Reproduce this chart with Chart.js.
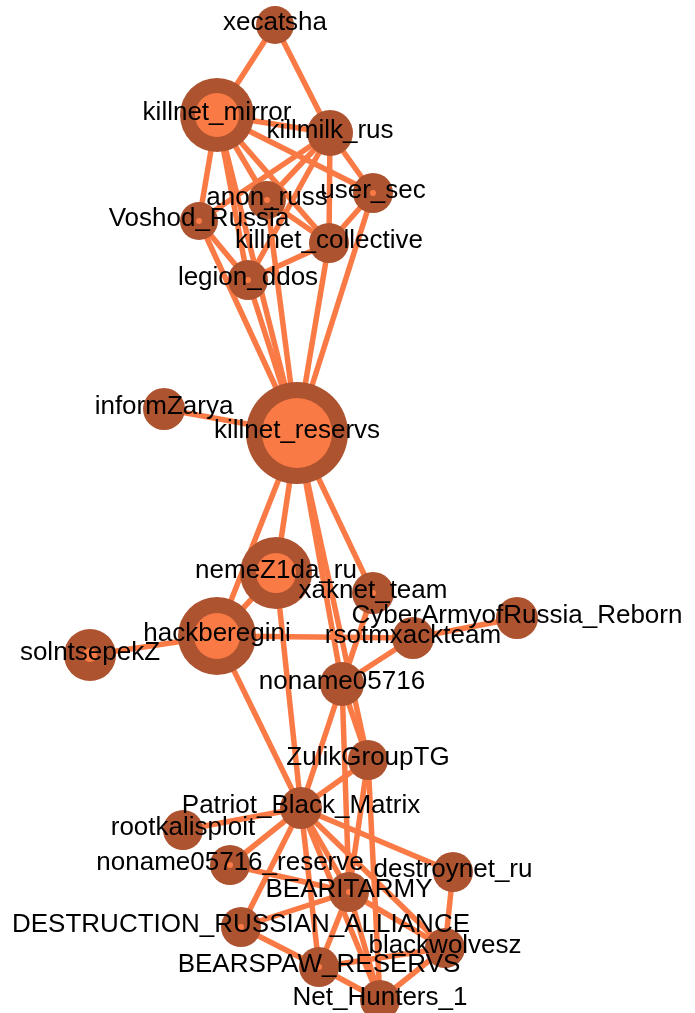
<!DOCTYPE html>
<html>
<head>
<meta charset="utf-8">
<script src="https://cdn.jsdelivr.net/npm/chart.js@4/dist/chart.umd.min.js"></script>
<style>
  html, body { margin: 0; padding: 0; background: #ffffff; }
  #graph { display: block; }
</style>
</head>
<body>
<canvas id="graph" width="695" height="1013"></canvas>
<script>
// vertices (layout coordinates)
var nodeNames = ['xecatsha', 'killnet_mirror', 'killmilk_rus', 'user_sec', 'anon_russ', 'Voshod_Russia',
    'killnet_collective', 'legion_ddos', 'informZarya', 'killnet_reservs', 'nemeZ1da_ru', 'xaknet_team',
    'CyberArmyofRussia_Reborn', 'hackberegini', 'rsotmxackteam', 'solntsepekZ', 'noname05716', 'ZulikGroupTG',
    'Patriot_Black_Matrix', 'rootkalisploit', 'noname05716_reserve', 'destroynet_ru', 'BEARITARMY',
    'DESTRUCTION_RUSSIAN_ALLIANCE', 'blackwolvesz', 'BEARSPAW_RESERVS', 'Net_Hunters_1'];
var nodeX = [275, 217, 330, 373, 267, 199, 329, 248, 164, 297, 276, 373, 517, 217, 413, 90, 342, 368,
    301, 183, 230, 453, 349, 241, 445, 319, 380];
var nodeY = [25, 115, 133, 193, 200, 221, 243, 280, 409, 433, 573, 593, 618, 636, 638, 655, 684, 760,
    808, 830, 865, 872, 892, 927, 948, 967, 1000];
// vertex size (outer) and inner measure
var nodeSize = [19, 37, 23, 20, 19, 19, 20, 20, 21, 51, 36, 21, 21, 39, 21, 26, 22, 20,
    21, 20, 20, 20, 20, 20, 20, 20, 20];
var nodeCore = [0, 22, 0, 3, 3, 3, 0, 3, 0, 35, 20, 3, 0, 23, 0, 7, 0, 0,
    0, 0, 3, 0, 3, 3, 0, 3, 0];

// edges
var edgeFrom = ['xecatsha', 'xecatsha', 'killnet_mirror', 'killnet_mirror', 'killnet_mirror', 'killnet_mirror',
    'killnet_mirror', 'killnet_mirror', 'killnet_mirror', 'killmilk_rus', 'killmilk_rus', 'killmilk_rus',
    'killmilk_rus', 'killmilk_rus', 'anon_russ', 'anon_russ', 'user_sec', 'user_sec', 'Voshod_Russia',
    'Voshod_Russia', 'legion_ddos', 'killnet_collective', 'killnet_collective',
    'informZarya', 'killnet_reservs', 'killnet_reservs', 'killnet_reservs', 'killnet_reservs', 'killnet_reservs',
    'hackberegini', 'hackberegini', 'hackberegini', 'hackberegini', 'nemeZ1da_ru', 'rsotmxackteam',
    'rsotmxackteam', 'xaknet_team', 'noname05716', 'noname05716', 'noname05716', 'ZulikGroupTG', 'ZulikGroupTG',
    'ZulikGroupTG', 'Patriot_Black_Matrix', 'Patriot_Black_Matrix', 'Patriot_Black_Matrix', 'Patriot_Black_Matrix',
    'Patriot_Black_Matrix', 'Patriot_Black_Matrix', 'Patriot_Black_Matrix', 'Patriot_Black_Matrix',
    'noname05716_reserve', 'DESTRUCTION_RUSSIAN_ALLIANCE', 'DESTRUCTION_RUSSIAN_ALLIANCE', 'BEARITARMY',
    'BEARITARMY', 'BEARITARMY', 'BEARSPAW_RESERVS', 'BEARSPAW_RESERVS', 'blackwolvesz', 'destroynet_ru'];
var edgeTo = ['killnet_mirror', 'killmilk_rus', 'killmilk_rus', 'user_sec', 'anon_russ', 'Voshod_Russia',
    'killnet_collective', 'legion_ddos', 'killnet_reservs', 'user_sec', 'anon_russ', 'Voshod_Russia',
    'killnet_collective', 'legion_ddos', 'killnet_collective', 'killnet_reservs', 'killnet_collective',
    'killnet_reservs', 'legion_ddos', 'killnet_reservs', 'killnet_reservs', 'legion_ddos', 'killnet_reservs',
    'killnet_reservs', 'nemeZ1da_ru', 'hackberegini', 'noname05716', 'ZulikGroupTG', 'xaknet_team',
    'solntsepekZ', 'rsotmxackteam', 'nemeZ1da_ru', 'Patriot_Black_Matrix', 'Patriot_Black_Matrix',
    'CyberArmyofRussia_Reborn', 'noname05716', 'noname05716', 'ZulikGroupTG', 'Patriot_Black_Matrix', 'BEARITARMY',
    'Patriot_Black_Matrix', 'BEARITARMY', 'Net_Hunters_1', 'rootkalisploit', 'noname05716_reserve',
    'DESTRUCTION_RUSSIAN_ALLIANCE', 'BEARITARMY', 'BEARSPAW_RESERVS', 'Net_Hunters_1', 'blackwolvesz',
    'destroynet_ru', 'BEARITARMY', 'BEARITARMY', 'BEARSPAW_RESERVS', 'BEARSPAW_RESERVS', 'blackwolvesz',
    'Net_Hunters_1', 'Net_Hunters_1', 'blackwolvesz', 'Net_Hunters_1', 'blackwolvesz'];

var vertexColor = '#ad532f';
var coreColor = '#fa7a46';
var edgeColor = '#fa7a46';

function pt(name) {
    var i = nodeNames.indexOf(name);
    return { x: nodeX[i], y: nodeY[i] };
}

var nodePoints = nodeNames.map((n, i) => ({ x: nodeX[i], y: nodeY[i] }));

var datasets = [];
// inner circles
datasets.push({
    type: 'scatter',
    data: nodePoints,
    pointRadius: nodeCore,
    pointBackgroundColor: coreColor,
    pointBorderWidth: 0,
    clip: false,
    order: 0
});
// vertices
datasets.push({
    type: 'scatter',
    data: nodePoints,
    pointRadius: nodeSize,
    pointBackgroundColor: vertexColor,
    pointBorderWidth: 0,
    clip: false,
    order: 1
});
// edges
edgeFrom.forEach((f, i) => {
    datasets.push({
        type: 'line',
        data: [pt(f), pt(edgeTo[i])],
        borderColor: edgeColor,
        borderWidth: 5.5,
        pointRadius: 0,
        fill: false,
        clip: false,
        order: 2
    });
});

// vertex labels on top
var labelPlugin = {
    id: 'vertexLabels',
    afterDraw(chart) {
        var ctx = chart.ctx;
        var xs = chart.scales.x, ys = chart.scales.y;
        ctx.save();
        ctx.font = '26px "Liberation Sans", Arial, sans-serif';
        ctx.fillStyle = '#000000';
        ctx.textAlign = 'center';
        ctx.textBaseline = 'middle';
        nodeNames.forEach((n, i) => {
            ctx.fillText(n, xs.getPixelForValue(nodeX[i]), ys.getPixelForValue(nodeY[i]) - 2);
        });
        ctx.restore();
    }
};

var ctx = document.getElementById('graph').getContext('2d');
var graph = new Chart(ctx, {
    type: 'scatter',
    data: { datasets: datasets },
    options: {
        responsive: false,
        animation: false,
        events: [],
        layout: { padding: 0, autoPadding: false },
        plugins: { legend: { display: false }, tooltip: { enabled: false } },
        scales: {
            x: { type: 'linear', min: 0, max: 695, display: false },
            y: { type: 'linear', min: 0, max: 1013, reverse: true, display: false }
        }
    },
    plugins: [labelPlugin]
});
</script>
</body>
</html>
